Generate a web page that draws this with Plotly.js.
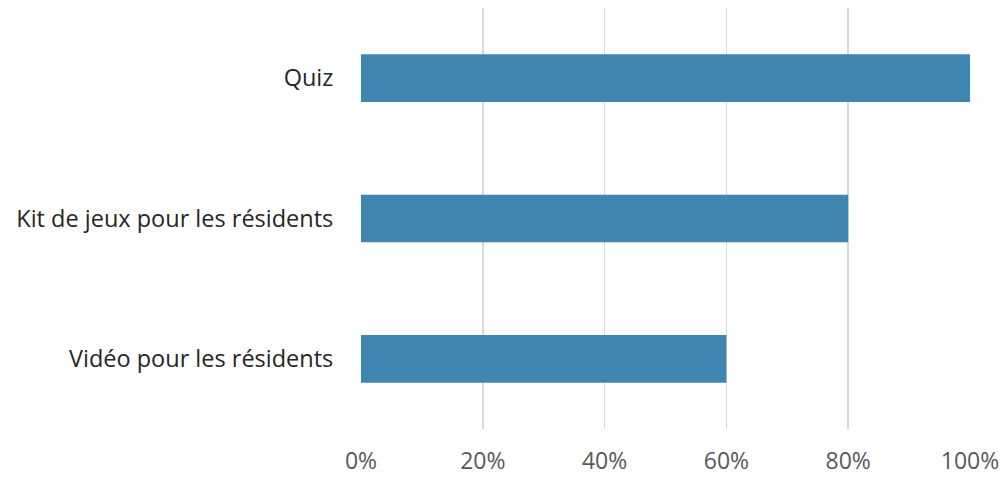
<!DOCTYPE html>
<html>
<head>
<meta charset="utf-8">
<script src="https://cdn.plot.ly/plotly-3.0.1.min.js"></script>
<style>html,body{margin:0;padding:0;background:#fff;}#chart{width:1005px;height:477px;}</style>
</head>
<body>
<div id="chart"></div>
<script>
const categories = ["Quiz", "Kit de jeux pour les résidents", "Vidéo pour les résidents"];
const values = [1.0, 0.8, 0.6];
const tickValues = [0, 0.2, 0.4, 0.6, 0.8, 1.0];
const tickLabels = ["0%", "20%", "40%", "60%", "80%", "100%"];

const trace = {
  type: 'bar',
  orientation: 'h',
  y: categories,
  x: values,
  width: 0.34,
  marker: {color: '#3F87B0'},
  hoverinfo: 'none'
};

const layout = {
  width: 1005, height: 477,
  margin: {l: 361, r: 35, t: 8, b: 48},
  paper_bgcolor: '#fff', plot_bgcolor: '#fff',
  showlegend: false,
  font: {family: '"Open Sans", sans-serif', size: 23, color: '#404040'},
  xaxis: {
    range: [0, 1.0],
    tickvals: tickValues, ticktext: tickLabels,
    showgrid: true, gridcolor: '#D9D9D9', gridwidth: 1.5,
    zeroline: false, showline: false,
    ticks: 'outside', ticklen: 11, tickcolor: 'rgba(0,0,0,0)',
    tickfont: {color: '#595959', size: 23},
    fixedrange: true
  },
  yaxis: {
    type: 'category',
    autorange: 'reversed',
    showgrid: false, zeroline: false, showline: false,
    ticks: 'outside', ticklen: 22, tickcolor: 'rgba(0,0,0,0)',
    tickfont: {color: '#262626', size: 23.5},
    fixedrange: true
  }
};

Plotly.newPlot('chart', [trace], layout, {displayModeBar: false, staticPlot: true});
</script>
</body>
</html>
